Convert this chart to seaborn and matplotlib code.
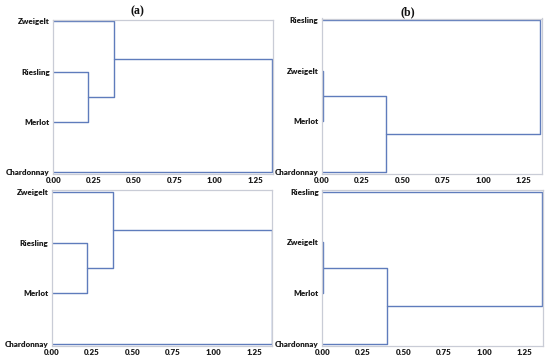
import matplotlib
matplotlib.use("Agg")
import matplotlib.pyplot as plt
import seaborn as sns
import numpy as np

sns.set_style("white")
plt.rcParams['font.family'] = ['Lato', 'DejaVu Sans']

# ---- data ----
# leaves listed top-to-bottom
leaves_a = ["Zweigelt", "Riesling", "Merlot", "Chardonnay"]
leaves_b = ["Riesling", "Zweigelt", "Merlot", "Chardonnay"]
# merges: (left member, right member, height); ints = leaf idx, "c<k>" = k-th merge
merges_a_top = [(1, 2, 0.215), (0, "c0", 0.378), ("c1", 3, 1.355)]
merges_b_top = [(1, 2, 0.005), ("c0", 3, 0.400), (0, "c1", 1.350)]
merges_a_bot = [(1, 2, 0.215), (0, "c0", 0.378), ("c1", 3, 1.362)]
merges_b_bot = [(1, 2, 0.005), ("c0", 3, 0.400), (0, "c1", 1.355)]
x_ticks = [0.00, 0.25, 0.50, 0.75, 1.00, 1.25]
x_tick_labels = ["0.00", "0.25", "0.50", "0.75", "1.00", "1.25"]

LINE = "#5f7cbc"
SPINE = "#c9ccd6"
TXT = "#1a1a1a"

def draw_dendro(ax, leaves, merges):
    n = len(leaves)
    pos = {i: (n - 1 - i, 0.0) for i in range(n)}  # y position, height
    for k, (a, b, h) in enumerate(merges):
        ya, ha = pos[a]
        yb, hb = pos[b]
        xs = [ha, h, h, hb]
        ys = [ya, ya, yb, yb]
        sns.lineplot(x=xs, y=ys, sort=False, estimator=None, color=LINE,
                     lw=1.0, ax=ax)
        pos["c%d" % k] = ((ya + yb) / 2.0, h)
    ax.set_xlim(0, 1.36)
    ax.set_ylim(-0.03, 3.03)
    ax.set_yticks(range(n))
    ax.set_yticklabels(leaves[::-1], fontsize=5.8, fontweight="heavy", color=TXT)
    ax.set_xticks(x_ticks)
    ax.set_xticklabels(x_tick_labels, fontsize=5.8, fontweight="heavy", color=TXT)
    ax.tick_params(axis="both", length=0, pad=2.5)
    ax.set_xlabel("")
    ax.set_ylabel("")
    for s in ax.spines.values():
        s.set_color(SPINE)
        s.set_linewidth(0.9)

W, H = 550, 363
fig = plt.figure(figsize=(5.5, 3.63), dpi=100)

def add_axes(l, r, t, b):
    return fig.add_axes([l / W, 1 - b / H, (r - l) / W, (b - t) / H])

ax1 = add_axes(53.3, 273.0, 19.5, 174.0)
ax2 = add_axes(321.7, 541.5, 18.5, 173.5)
ax3 = add_axes(51.7, 272.0, 190.0, 346.0)
ax4 = add_axes(322.3, 542.5, 190.0, 345.5)

draw_dendro(ax1, leaves_a, merges_a_top)
draw_dendro(ax2, leaves_b, merges_b_top)
draw_dendro(ax3, leaves_a, merges_a_bot)
draw_dendro(ax4, leaves_b, merges_b_bot)

fig.text(137 / W, 1 - 11 / H, "(a)", ha="center", va="center", fontsize=8.5,
         fontweight="bold", family=["Liberation Serif"], color="#111111")
fig.text(408 / W, 1 - 12 / H, "(b)", ha="center", va="center", fontsize=8.5,
         fontweight="bold", family=["Liberation Serif"], color="#111111")

fig.savefig("out.png", dpi=100)
